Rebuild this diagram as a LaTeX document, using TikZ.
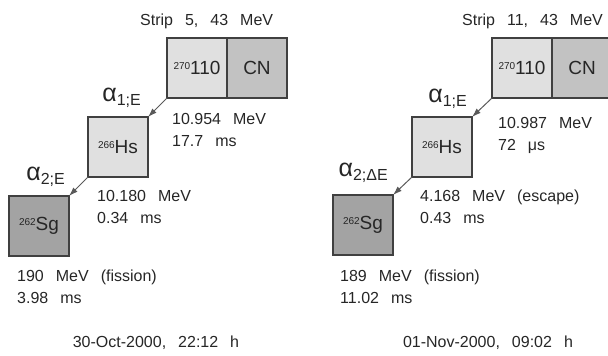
\documentclass[tikz,border=0pt]{standalone}
\usepackage{fontspec}
\setmainfont{Liberation Sans}[WordSpace=2.7]
\usetikzlibrary{arrows.meta}
\definecolor{lightgray}{gray}{0.88}
\definecolor{cngray}{gray}{0.76}
\definecolor{sggray}{gray}{0.64}
\newcommand{\nuc}[2]{\raisebox{5pt}{\fontsize{10}{10}\selectfont #1}#2}
\newcommand{\alab}[1]{{\fontsize{25}{25}\selectfont α}\raisebox{-4pt}{#1}}
\begin{document}
\begin{tikzpicture}[x=1pt, y=-1pt,
  every node/.style={inner sep=0pt, text=black!85, font=\fontsize{16}{22}\selectfont},
  box/.style={draw=black!75, line width=1.5pt, minimum size=60pt, outer sep=0pt, font=\fontsize{19}{19}\selectfont},
  decay/.style={draw=black!65, line width=1pt, -{Latex[length=9pt,width=6pt]}}]
\useasboundingbox (0,0) rectangle (608,356);

% 30-Oct-2000
\begin{scope}[xshift=0pt]
\node[anchor=base west] (s1) at (140,25) {Strip 5, 43 MeV};
\node[box, fill=lightgray] (p1) at (197,68) {\nuc{270}{110}};
\node[box, fill=cngray] (c1) at (257,68) {CN};
\node[box, fill=lightgray] (h1) at (118,147) {\nuc{266}{Hs}};
\node[box, fill=sggray] (g1) at (39,226) {\nuc{262}{Sg}};
\draw[decay] (p1.south west) -- (h1.north east);
\draw[decay] (h1.south west) -- (g1.north east);
\node[anchor=base east] (a11) at (141,101) {\alab{1;E}};
\node[anchor=base east] (a21) at (65,180) {\alab{2;E}};
\node[anchor=north west, align=left] (e11) at (172,113) {10.954 MeV\\17.7 ms};
\node[anchor=north west, align=left] (e21) at (97,190) {10.180 MeV\\0.34 ms};
\node[anchor=north west, align=left] (f1) at (17,270) {190 MeV (fission)\\3.98 ms};
\node (d1) at (156,343) {30-Oct-2000, 22:12 h};
\end{scope}

% 01-Nov-2000
\begin{scope}[xshift=324pt]
\node[anchor=base west] (s2) at (138,25) {Strip 11, 43 MeV};
\node[box, fill=lightgray] (p2) at (198,68) {\nuc{270}{110}};
\node[box, fill=cngray] (c2) at (258,68) {CN};
\node[box, fill=lightgray] (h2) at (118,147) {\nuc{266}{Hs}};
\node[box, fill=sggray] (g2) at (39,225) {\nuc{262}{Sg}};
\draw[decay] (p2.south west) -- (h2.north east);
\draw[decay] (h2.south west) -- (g2.north east);
\node[anchor=base east] (a12) at (143,102) {\alab{1;E}};
\node[anchor=base east] (a22) at (64,176) {\alab{2;ΔE}};
\node[anchor=north west, align=left] (e12) at (174,117) {10.987 MeV\\72 μs};
\node[anchor=north west, align=left] (e22) at (96,190) {4.168 MeV (escape)\\0.43 ms};
\node[anchor=north west, align=left] (f2) at (16,270) {189 MeV (fission)\\11.02 ms};
\node (d2) at (164,343) {01-Nov-2000, 09:02 h};
\end{scope}
\end{tikzpicture}
\end{document}
